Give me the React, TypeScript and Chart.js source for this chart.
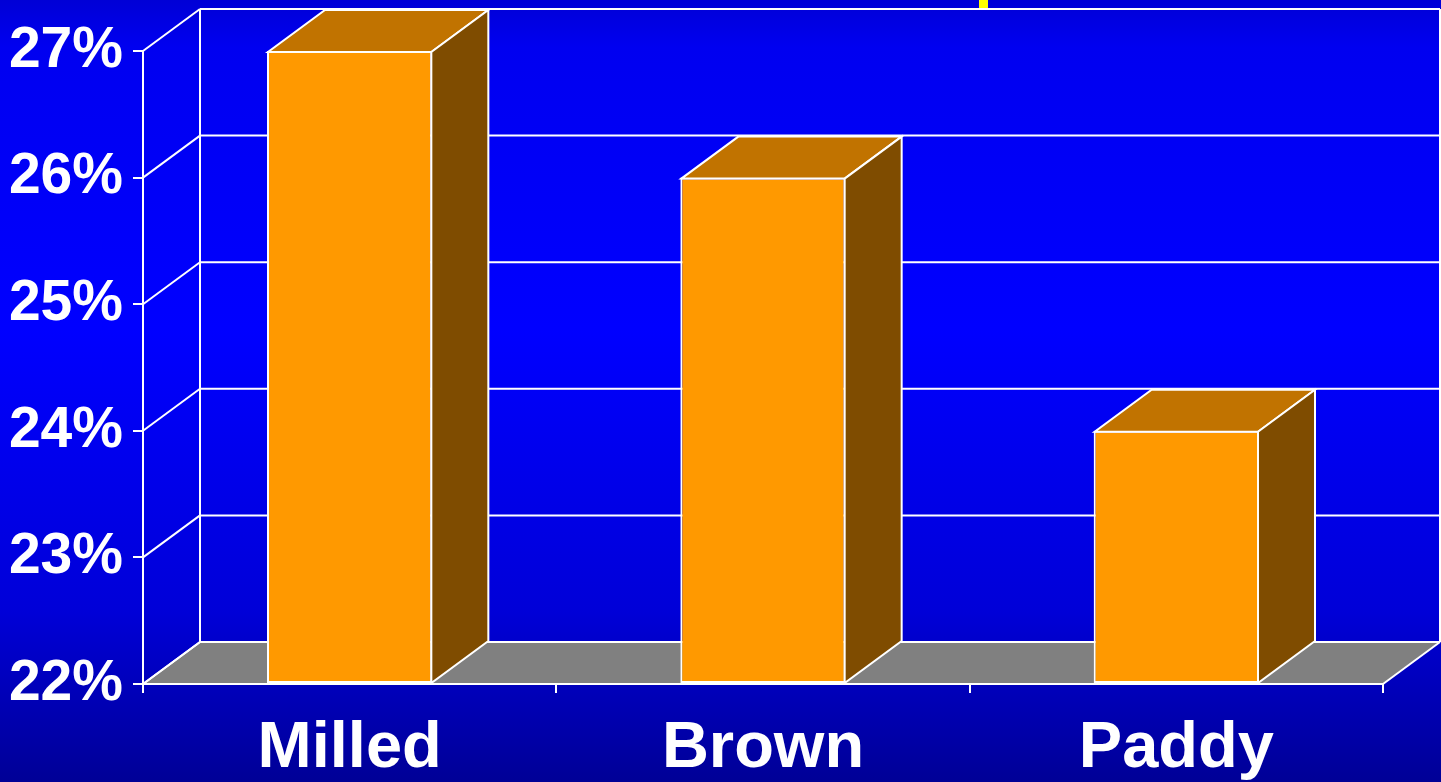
import React, { useEffect, useRef } from 'react';
import { Chart, registerables } from 'chart.js';

Chart.register(...registerables);

// ---- data ----
const categories = ['Milled', 'Brown', 'Paddy'];
const percentValues = [27, 26, 24];
const yTickLabels = ['22%', '23%', '24%', '25%', '26%', '27%'];
const yMin = 22;
const yMax = 27;

// ---- style ----
const DEPTH_X = 57;
const DEPTH_Y = -42;
const FONT = "'Liberation Sans', Arial, Helvetica, sans-serif";
const FRONT = '#FF9900';
const TOP = '#C17300';
const SIDE = '#7F4C00';
const FLOOR = '#808080';
const LINE = '#FFFFFF';

function poly(ctx: CanvasRenderingContext2D, pts: number[][], fill?: string, stroke?: string) {
  ctx.beginPath();
  ctx.moveTo(pts[0][0], pts[0][1]);
  for (let i = 1; i < pts.length; i++) ctx.lineTo(pts[i][0], pts[i][1]);
  ctx.closePath();
  if (fill) {
    ctx.fillStyle = fill;
    ctx.fill();
  }
  if (stroke) {
    ctx.strokeStyle = stroke;
    ctx.lineWidth = 2;
    ctx.lineJoin = 'miter';
    ctx.stroke();
  }
}

function line(ctx: CanvasRenderingContext2D, x1: number, y1: number, x2: number, y2: number) {
  ctx.beginPath();
  ctx.moveTo(x1, y1);
  ctx.lineTo(x2, y2);
  ctx.strokeStyle = LINE;
  ctx.lineWidth = 2;
  ctx.stroke();
}

const threeDPlugin = {
  id: 'threeD',
  beforeDraw(chart: any) {
    const { ctx, width, height, chartArea } = chart;
    const yScale = chart.scales.y;
    ctx.save();
    const g = ctx.createLinearGradient(0, 0, 0, height);
    g.addColorStop(0, '#0000D6');
    g.addColorStop(0.06, '#0000F0');
    g.addColorStop(0.42, '#0000FF');
    g.addColorStop(0.78, '#0000D8');
    g.addColorStop(1, '#000096');
    ctx.fillStyle = g;
    ctx.fillRect(0, 0, width, height);

    ctx.fillStyle = '#FFFF00';
    ctx.fillRect(979, 0, 9, 8);

    const { left, right, top, bottom } = chartArea;
    // floor
    poly(ctx, [
      [left, bottom],
      [right, bottom],
      [right + DEPTH_X, bottom + DEPTH_Y],
      [left + DEPTH_X, bottom + DEPTH_Y],
    ], FLOOR);
    line(ctx, left, bottom, left + DEPTH_X, bottom + DEPTH_Y);
    line(ctx, right, bottom, right + DEPTH_X, bottom + DEPTH_Y);

    // back wall grid + side wall diagonals
    yScale.ticks.forEach((t: any) => {
      const y = yScale.getPixelForValue(t.value);
      line(ctx, left + DEPTH_X, y + DEPTH_Y, right + DEPTH_X, y + DEPTH_Y);
      line(ctx, left, y, left + DEPTH_X, y + DEPTH_Y);
    });
    // back wall vertical edges
    line(ctx, left + DEPTH_X, top + DEPTH_Y, left + DEPTH_X, bottom + DEPTH_Y);
    line(ctx, right + DEPTH_X, top + DEPTH_Y, right + DEPTH_X, bottom + DEPTH_Y);
    ctx.restore();
  },
  afterDatasetsDraw(chart: any) {
    const { ctx } = chart;
    const meta = chart.getDatasetMeta(0);
    ctx.save();
    meta.data.forEach((bar: any) => {
      const { x, y, base, width } = bar.getProps(['x', 'y', 'base', 'width'], true);
      const x1 = x - width / 2 + 1;
      const x2 = x + width / 2 - 1;
      const yt = y + 1;
      // top face
      poly(ctx, [
        [x1, yt],
        [x2, yt],
        [x2 + DEPTH_X, yt + DEPTH_Y],
        [x1 + DEPTH_X, yt + DEPTH_Y],
      ], TOP, LINE);
      // side face
      poly(ctx, [
        [x2, yt],
        [x2 + DEPTH_X, yt + DEPTH_Y],
        [x2 + DEPTH_X, base + DEPTH_Y],
        [x2, base],
      ], SIDE, LINE);
    });
    ctx.restore();
  },
};

export default function App() {
  const ref = useRef<HTMLCanvasElement>(null);

  useEffect(() => {
    const canvas = ref.current!;
    const chart = new Chart(canvas, {
      type: 'bar',
      data: {
        labels: categories,
        datasets: [
          {
            data: percentValues,
            base: yMin,
            backgroundColor: FRONT,
            borderColor: LINE,
            borderWidth: 2,
            borderSkipped: false,
            barPercentage: 0.8,
            categoryPercentage: 0.5,
          } as any,
        ],
      },
      options: {
        responsive: false,
        animation: false,
        devicePixelRatio: 1,
        layout: { padding: { top: 51, right: 58, left: 0, bottom: 0 } },
        plugins: {
          legend: { display: false },
          tooltip: { enabled: false },
          title: { display: false },
        },
        scales: {
          x: {
            grid: {
              display: true,
              drawOnChartArea: false,
              drawTicks: true,
              tickLength: 9,
              color: LINE,
              lineWidth: 2,
            },
            border: { display: true, color: LINE, width: 2 },
            ticks: {
              color: '#FFFFFF',
              padding: 17,
              font: { family: FONT, size: 65, weight: 'bold' },
            },
            afterFit: (scale: any) => {
              scale.height = 98;
            },
          },
          y: {
            min: yMin,
            max: yMax,
            grid: {
              display: true,
              drawOnChartArea: false,
              drawTicks: true,
              tickLength: 10,
              color: LINE,
              lineWidth: 2,
            },
            border: { display: true, color: LINE, width: 2 },
            ticks: {
              stepSize: 1,
              color: '#FFFFFF',
              padding: 10,
              font: { family: FONT, size: 57, weight: 'bold' },
              callback: (_v: any, i: number) => yTickLabels[i],
            },
            afterFit: (scale: any) => {
              scale.width = 143;
            },
          },
        },
      },
      plugins: [threeDPlugin],
    });
    return () => chart.destroy();
  }, []);

  return (
    <div style={{ position: 'fixed', left: 0, top: 0, width: 1441, height: 782 }}>
      <canvas ref={ref} width={1441} height={782} style={{ width: 1441, height: 782, display: 'block' }} />
    </div>
  );
}
